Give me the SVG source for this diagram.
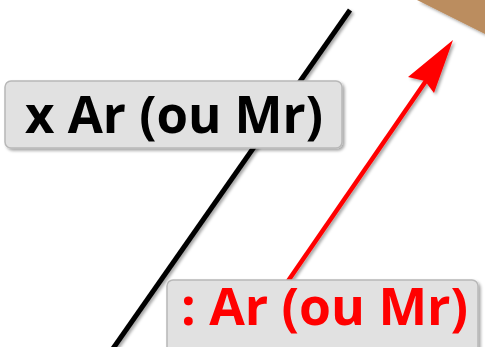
<svg xmlns="http://www.w3.org/2000/svg" width="485" height="347" viewBox="0 0 485 347">
<defs>
<filter id="sh" x="-10%" y="-10%" width="130%" height="130%">
<feDropShadow dx="2" dy="2" stdDeviation="1.5" flood-color="#000" flood-opacity="0.35"/>
</filter>
<style>
.box{fill:#e1e1e1;stroke:#b8b8b8;stroke-width:1.5;filter:url(#sh)}
.lbl{font-family:"Open Sans",sans-serif;font-weight:bold;font-size:52px}
</style>
</defs>
<polygon points="417,0 485,0 485,34" fill="#bb8d5e" filter="url(#sh)"/>
<g id="connectors">
<line x1="350" y1="10" x2="112" y2="350" stroke="#000" stroke-width="5" filter="url(#sh)"/>
<g filter="url(#sh)">
<line x1="288" y1="281" x2="428" y2="78" stroke="#f00" stroke-width="4.5"/>
<polygon points="453,40 434,93 425,81 408,77" fill="#f00"/>
</g>
</g>
<g id="label1">
<rect class="box" x="5" y="81" width="337" height="67" rx="6"/>
<text class="lbl" x="25" y="133" fill="#000" textLength="298" lengthAdjust="spacingAndGlyphs">x Ar (ou Mr)</text>
</g>
<g id="label2">
<rect class="box" x="167" y="280" width="311" height="80" rx="6"/>
<text class="lbl" x="181" y="325" fill="#f00" textLength="287" lengthAdjust="spacingAndGlyphs">: Ar (ou Mr)</text>
</g>
</svg>
